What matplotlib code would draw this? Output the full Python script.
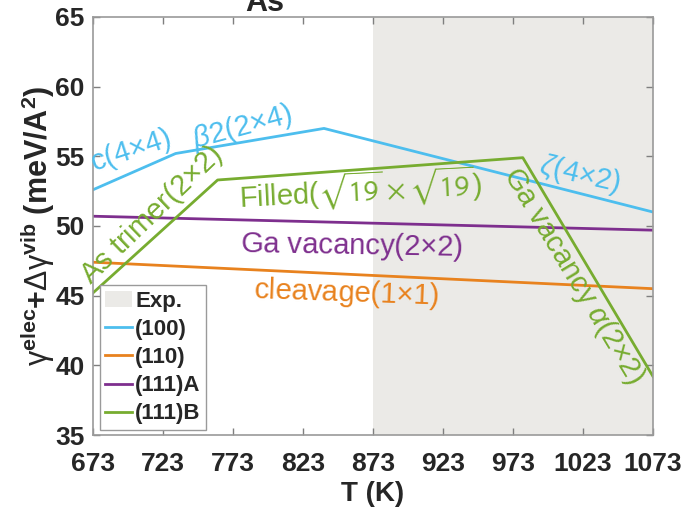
import matplotlib
matplotlib.use("Agg")
import matplotlib.pyplot as plt
from matplotlib.patches import Patch
from matplotlib.lines import Line2D


# data
T_100 = [673, 732, 838, 1073]
E_100 = [52.6, 55.2, 57.0, 51.0]
T_110 = [673, 1073]
E_110 = [47.4, 45.5]
T_111A = [673, 1073]
E_111A = [50.7, 49.7]
T_111B = [673, 762, 980, 1073]
E_111B = [45.2, 53.3, 54.9, 39.2]
EXP_RANGE = [873, 1073]

SERIES_NAMES = ["(100)", "(110)", "(111)A", "(111)B"]
X_TICKS = [673, 723, 773, 823, 873, 923, 973, 1023, 1073]
Y_TICKS = [35, 40, 45, 50, 55, 60, 65]

BLUE = "#4DBEEE"
ORANGE = "#E8821E"
PURPLE = "#7E2F8E"
GREEN = "#77AC30"
SHADE = "#EBEAE7"
DARK = "#262626"

plt.rcParams["font.family"] = ["Liberation Sans", "DejaVu Sans"]
plt.rcParams["mathtext.fontset"] = "custom"
plt.rcParams["mathtext.rm"] = "Liberation Sans"
plt.rcParams["mathtext.it"] = "Liberation Sans:italic"
plt.rcParams["mathtext.bf"] = "Liberation Sans:bold"

fig = plt.figure(figsize=(6.85, 5.13), dpi=100)
ax = fig.add_axes([0.1358, 0.152, 0.8175, 0.815])

ax.axvspan(EXP_RANGE[0], EXP_RANGE[1], color=SHADE, lw=0, zorder=0)

lw = 2.0
ax.plot(T_100, E_100, color=BLUE, lw=lw)
ax.plot(T_110, E_110, color=ORANGE, lw=lw)
ax.plot(T_111A, E_111A, color=PURPLE, lw=lw)
ax.plot(T_111B, E_111B, color=GREEN, lw=lw)

ax.set_xlim(673, 1073)
ax.set_ylim(35, 65)
ax.set_xticks(X_TICKS)
ax.set_yticks(Y_TICKS)
ax.tick_params(direction="in", top=True, right=True, length=5, width=1,
               color="#7f7f7f", labelsize=19, labelcolor=DARK)
ax.tick_params(axis="x", pad=12)
ax.tick_params(axis="y", pad=6)
for lab in ax.get_xticklabels() + ax.get_yticklabels():
    lab.set_fontweight("bold")
for sp in ax.spines.values():
    sp.set_color("#9a9a9a")
    sp.set_linewidth(1.2)

ax.set_xlabel("T (K)", fontsize=20, fontweight="bold", color=DARK, labelpad=4)
ax.set_ylabel(r"$\mathrm{\gamma}^{\mathbf{elec}}\mathbf{+}\mathrm{\Delta\gamma}^{\mathbf{vib}}$"
              r" $\mathbf{(meV/A^2)}$",
              fontsize=22, color=DARK, labelpad=-1)

fig.text(265 / 685, 1 - 11 / 513, "As", fontsize=22, fontweight="bold",
         color=DARK, ha="center", va="baseline")

# surface reconstruction labels
fs = 21
def label(x, y, s, c, rot, **kw):
    ax.text(x, y, s, color=c, fontsize=fs, rotation=rot, ha="center",
            va="center", rotation_mode="anchor", **kw)

label(700, 55.4, r"c(4$\times$4)", BLUE, 18)
label(780, 57.1, r"$\it{\beta}$2(2$\times$4)", BLUE, 15)
label(715, 50.8, r"As trimer(2$\times$2)", GREEN, 44)
label(864, 52.6, r"Filled($\sqrt{19}\times\sqrt{19}$)", GREEN, 3,
      math_fontfamily="stixsans")
label(858, 48.6, r"Ga vacancy(2$\times$2)", PURPLE, -1)
label(854, 45.2, r"cleavage(1$\times$1)", ORANGE, -2)
label(1021, 53.7, r"$\it{\zeta}$(4$\times$2)", BLUE, -13)
label(1016, 46.4, r"Ga vacancy $\it{\alpha}$(2$\times$2)", GREEN, -59)

handles = [Patch(facecolor=SHADE, edgecolor="none", label="Exp.")]
for name, c in zip(SERIES_NAMES, [BLUE, ORANGE, PURPLE, GREEN]):
    handles.append(Line2D([], [], color=c, lw=lw, label=name))
leg = ax.legend(handles=handles, loc="lower left", bbox_to_anchor=(0.012, 0.012),
                borderaxespad=0, fancybox=False, framealpha=1, edgecolor="#9a9a9a",
                prop={"weight": "bold", "size": 16}, handlelength=1.2,
                handletextpad=0.15, labelspacing=0.32, borderpad=0.25)
for t in leg.get_texts():
    t.set_color(DARK)

fig.savefig("out.png", dpi=100)
